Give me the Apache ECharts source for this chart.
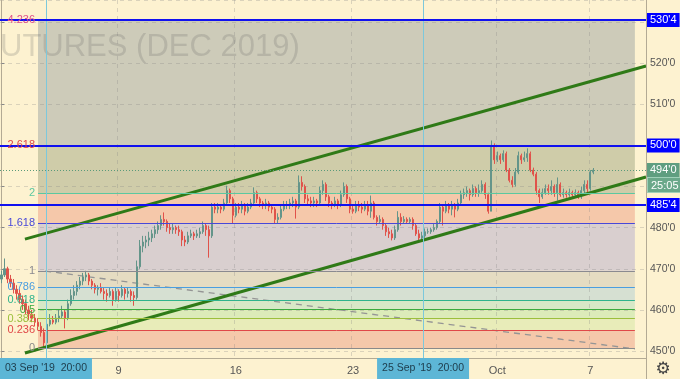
<!DOCTYPE html>
<html><head><meta charset="utf-8">
<script src="https://cdn.jsdelivr.net/npm/echarts@6.0.0/dist/echarts.min.js"></script>
<style>html,body{margin:0;padding:0;background:#fdf2d0}#c{width:680px;height:379px}</style>
</head><body><div id="c"></div>
<script>
// ---- data ----
const barCount = 215; // slots across the time axis (incl. empty future space)
const opens = [467.5,468.5,470,467.5,466.5,465,464,462.5,461.5,460,
459,458,457,456,454.5,452,456.5,457.5,457,458,
458.5,459.5,458,461.5,463.5,464.5,466,467,468,468.5,
467,466,465,465.5,464.5,464,463.5,464.5,462.5,464.5,
463.5,465,464,464.5,463.5,463,470.5,475.5,476.5,477,
477.5,478.5,479.5,480.5,482,481.5,480,479.5,480,479.5,
479,477,476.5,478,478.5,478,478.5,479,480.5,479.5,
478,485,484.5,485,484.5,486,489,487,483,485,
484.5,485.5,484,485,486,488.5,487,486,485.5,486,
485,484.5,482,482.5,484.5,485.5,485.5,486,486.5,485,
491,490,487,486.5,486,486.5,486,489,490.5,487.5,
486,485.5,486.5,485.5,488,490,487,484.5,484,485.5,
485,484.5,485.5,484,486,482.5,481.5,482,480.5,479,
478.5,477.5,479.5,482.5,481.5,482,481.5,482,480.5,478.5,
477.5,478,479,479,479.5,480,481.5,485,484,485.5,
484.5,485.5,484.5,486,488,488.5,489,488,489.5,488.5,
489,490.5,488,484,500,496.5,497.5,496.5,498,494,
491.5,490.5,493.5,497.5,496.5,497,498,494,493,489,
487.5,488.5,489.5,489,490,488.5,490.5,488,488.5,488,
488.5,488,488.5,487.5,489,490.5,489.5,493.5];
const closes = [468.5,470,467.5,466.5,465,464,462.5,461.5,460,459,
458,457,456,454.5,452,456.5,457.5,457,458,458.5,
459.5,458,461.5,463.5,464.5,466,467,468,468.5,467,
466,465,465.5,464.5,464,463.5,464.5,462.5,464.5,463.5,
465,464,464.5,463.5,463,470.5,475.5,476.5,477,477.5,
478.5,479.5,480.5,482,481.5,480,479.5,480,479.5,479,
477,476.5,478,478.5,478,478.5,479,480.5,479.5,478,
485,484.5,485,484.5,486,489,487,483,485,484.5,
485.5,484,485,486,488.5,487,486,485.5,486,485,
484.5,482,482.5,484.5,485.5,485.5,486,486.5,485,491,
490,487,486.5,486,486.5,486,489,490.5,487.5,486,
485.5,486.5,485.5,488,490,487,484.5,484,485.5,485,
484.5,485.5,484,486,482.5,481.5,482,480.5,479,478.5,
477.5,479.5,482.5,481.5,482,481.5,482,480.5,478.5,477.5,
478,479,479,479.5,480,481.5,485,484,485.5,484.5,
485.5,484.5,486,488,488.5,489,488,489.5,488.5,489,
490.5,488,484,500,496.5,497.5,496.5,498,494,491.5,
490.5,493.5,497.5,496.5,497,498,494,493,489,487.5,
488.5,489.5,489,490,488.5,490.5,488,488.5,488,488.5,
488,488.5,487.5,489,490.5,489.5,493.5,494];
const lows = [466.5,468,466.5,465.5,464,462.5,461.5,460,459,457.5,
457,456,455,453.5,451,451.5,456,456.5,456.5,457,
458,455.5,457.5,461,462.5,463.5,465,466,467,466,
465,464,463.5,464,462.5,462,463,461,462,462,
463,462.5,463,462,461,462.5,470,474,475,475.5,
476.5,477.5,478.5,479.5,480.5,479,478.5,478.5,478.5,478,
475.5,475.5,476,477.5,477,477.5,477.5,478.5,478,472.7,
477.5,483.5,483.5,483.5,484,485.5,486,481,482.5,483.5,
483.5,483,483.5,484.5,485.5,486,485,484.5,484.5,484,
483.5,481,481,482,484,484.5,484.5,485,482.2,484.5,
489,486,485.5,485,485,485,485.5,488,486.5,485,
484.5,485,484.5,485,487.5,486,483.5,483.4,483.5,484,
483.5,484,483,482.4,482,480.5,481,479.5,478,477.5,
476.9,477,479,480.5,481,481,481,479.5,478,477,
476.8,477.5,478.5,478.5,479,479.5,481,480.5,483.5,483.5,
483,482.5,484,485.5,487,487.5,486.6,487.5,487.5,487.5,
488.5,487,483.4,484,495.5,496,495.5,496,493.5,491,
489.8,490,493,495.5,496,496,493.5,492.5,488,486,
487,488,488,488,487.5,486.6,487.5,487.3,487.3,487.5,
487,487.3,487,487,488,488.5,489,493];
const highs = [469.5,472.5,470.5,468.5,467.5,466,465,463.5,462.5,461,
460,459,458,457,455.5,457.5,459,458.5,459,460,
461,460,462.5,465,466,467,468,469,469.5,469,
467.5,466.5,466,466.5,465.5,465,465.5,465,465.5,465,
466,465.5,465.5,465,464.5,472,477,478,478,479,
479.5,480.5,481.5,483,483.7,482,481,481,480.5,480.5,
479.5,478,479,479.5,479,479.5,480,481.5,481,480.5,
486,486,486,485.5,487,490.2,489.5,487.5,486,486,
486.5,486,486,487,489.8,489,487.5,486.5,487,486.5,
485.5,485,483.5,485.5,486.5,486.5,487,487.5,487,492.7,
492.5,490.5,488,487.5,487.5,487,490,491.5,491,488,
486.5,487.5,487,489,491,490.5,487.5,485.5,486.5,486.5,
486,486.5,486.5,487.8,486.5,483,483,482.5,481,480,
479.5,480.5,484,483.5,482.8,482.5,482.5,482.5,481,479.5,
479,479.8,479.8,480,481,482,486,485.5,486.5,486,
486.5,486,487,489,489.5,490,489.5,490.5,490,490.5,
491.5,491,488.5,501.2,500.5,498.5,498,498.8,498.5,494.5,
492.5,494.5,498.5,498,498.5,499.3,498.5,494.6,493.5,489.5,
489.5,490.5,490.5,491.5,490.5,492.2,491,489.5,489,489.5,
489,489.3,489,490,491.5,491.5,494,494.5];

const xTickIndex = [39, 78, 117, 165, 196];
const xTickLabels = ['9', '16', '23', 'Oct', '7'];

const fibLow = 450.65, fibHigh = 469.5;
const fibRatios = [0, 0.236, 0.382, 0.5, 0.618, 0.786, 1, 1.618, 2, 2.618, 4.236];
const fibLabels = ['0', '0.236', '0.382', '0.5', '0.618', '0.786', '1', '1.618', '2', '2.618', '4.236'];
const fibStart = 12.15, fibEnd = 210.8;

const upperTrend = [[7.8, 477.2], [214.5, 519.3]];
const lowerTrend = [[7.8, 449.5], [214.5, 492.3]];
const dashedTrend = [[14.5, 469.45], [210.8, 450.5]];
const blueLevels = [530.5, 500, 485.5];
const lastPrice = 494;
const countdown = '25:05';
const crosshairX = [14.8, 140.3];
const crosshairLabels = ["03 Sep '19  20:00", "25 Sep '19  20:00"];
const watermark = 'UTURES (DEC 2019)';

// ---- styles ----
const FONT = 'Liberation Sans, Arial, sans-serif';
const fibLineColors = ['#8a8a8a','#e04848','#9cbf3c','#3daa3d','#2fb38c','#4a9ee0','#8a8a90','#4848d8','#5cc8a0','#e04848','#e0508a'];
const fibFillColors = ['#f5c8aa','#e8ecb9','#dcebb9','#d7e8c6','#d6e0d2','#e5dcc2','#d9cfcf','#f5c8aa','#cfcca9','#cdcbb9'];

function fmt(v) {
  const f = Math.floor(v + 1e-9);
  return f + "'" + Math.round((v - f) * 8);
}

const categories = [];
for (let i = 0; i < barCount; i++) categories.push(String(i));
const ohlc = opens.map((o, i) => [o, closes[i], lows[i], highs[i]]);
const fibValues = fibRatios.map(r => fibLow + r * (fibHigh - fibLow));

const fibAreas = [];
for (let k = 0; k < fibValues.length - 1; k++) {
  fibAreas.push([
    { xAxis: fibStart, yAxis: fibValues[k], itemStyle: { color: fibFillColors[k] } },
    { xAxis: fibEnd, yAxis: fibValues[k + 1] }
  ]);
}
const fibLines = fibValues.map((v, k) => [
  { coord: [fibStart, v], lineStyle: { color: fibLineColors[k], width: 1, type: 'solid' },
    label: { show: true, position: 'start', distance: 3, formatter: fibLabels[k], color: fibLineColors[k], fontSize: 11, fontFamily: FONT } },
  { coord: [fibEnd, v] }
]);

const chart = echarts.init(document.getElementById('c'), null, { renderer: 'canvas' });
const tickSet = new Set(xTickIndex);

const option = {
  animation: false,
  backgroundColor: '#fdf2d0',
  grid: { left: 0, right: 34, top: 0, bottom: 21, containLabel: false },
  xAxis: [{
    type: 'category', data: categories, boundaryGap: true, z: 1.5,
    axisLine: { show: true, lineStyle: { color: '#b3aa94', width: 1 } },
    axisTick: { show: false },
    axisLabel: { interval: (idx) => tickSet.has(idx), color: '#555', fontSize: 11, fontFamily: FONT, margin: 7,
      formatter: (val, idx) => { const k = xTickIndex.indexOf(Number(val)); return k >= 0 ? xTickLabels[k] : ''; } },
    splitLine: { show: true, interval: (idx) => tickSet.has(idx), lineStyle: { color: 'rgba(130,130,130,0.28)', type: [4, 4] } }
  }, {
    type: 'value', min: -0.5, max: barCount - 0.5, show: false
  }],
  yAxis: [{
    type: 'value', position: 'right', min: 448.3, max: 535.36, splitNumber: 9, z: 1.5,
    axisLine: { show: true, lineStyle: { color: '#b3aa94', width: 1 } },
    axisTick: { show: true, length: 3, lineStyle: { color: '#888' } },
    axisLabel: { showMinLabel: false, showMaxLabel: false, formatter: fmt, color: '#555', fontSize: 10.5, fontFamily: FONT, margin: 4 },
    splitLine: { show: true, lineStyle: { color: 'rgba(130,130,130,0.28)', type: [4, 4] } }
  }],
  series: [
    { // fibonacci zones
      type: 'line', xAxisIndex: 1, yAxisIndex: 0, z: 1, data: [], symbol: 'none',
      markArea: { silent: true, data: fibAreas },
      markLine: { silent: true, symbol: ['none', 'none'], data: fibLines }
    },
    { // crosshair verticals
      type: 'line', xAxisIndex: 1, yAxisIndex: 0, z: 2, data: [], symbol: 'none',
      markLine: { silent: true, symbol: ['none', 'none'],
        data: crosshairX.map((x, k) => ({ xAxis: x,
          lineStyle: { color: '#7cc8dc', width: 1, type: 'solid' },
          label: { show: true, position: 'start', distance: 0, formatter: crosshairLabels[k], color: '#1d3b4a',
            backgroundColor: '#5db6d6', padding: [5, 5, 5, 5], fontSize: 10.5, fontFamily: FONT } })) }
    },
    {
      type: 'line', xAxisIndex: 1, yAxisIndex: 0, z: 2.5, data: dashedTrend, symbol: 'none',
      lineStyle: { color: '#959595', width: 1.3, type: [6, 5] }
    },
    {
      type: 'candlestick', xAxisIndex: 0, yAxisIndex: 0, z: 3, data: ohlc, barWidth: 1.6,
      itemStyle: { color: '#64958a', color0: '#e0524a', borderColor: '#64958a', borderColor0: '#e0524a', borderWidth: 1 }
    },
    {
      type: 'line', xAxisIndex: 1, yAxisIndex: 0, z: 4, data: upperTrend, symbol: 'none',
      lineStyle: { color: '#2f7a17', width: 3 }
    },
    {
      type: 'line', xAxisIndex: 1, yAxisIndex: 0, z: 4, data: lowerTrend, symbol: 'none',
      lineStyle: { color: '#2f7a17', width: 3 }
    },
    { // horizontal levels with price tags
      type: 'line', xAxisIndex: 1, yAxisIndex: 0, z: 5, data: [], symbol: 'none',
      markLine: { silent: true, symbol: ['none', 'none'],
        data: blueLevels.map(v => ({ yAxis: v,
          lineStyle: { color: '#1010f0', width: 2, type: 'solid' },
          label: { show: true, position: 'end', distance: 1, formatter: fmt(v), color: '#fff', backgroundColor: '#0000ff',
            padding: [2, 3, 1, 3], fontSize: 11, fontFamily: FONT } })).concat([{ yAxis: lastPrice,
          lineStyle: { color: '#5a9a7a', width: 1, type: [1, 2] },
          label: { show: true, position: 'end', distance: 1, formatter: fmt(lastPrice), color: '#fff', backgroundColor: '#5f9e80',
            padding: [2, 3, 1, 3], fontSize: 11, fontFamily: FONT } }]) }
    }
  ],
  graphic: []
};
chart.setOption(option);

const yLast = chart.convertToPixel({ yAxisIndex: 0 }, lastPrice);
chart.setOption({ graphic: [
  { type: 'text', left: 0, top: 32, z: 2, silent: true,
    style: { text: watermark, fontSize: 31, fontFamily: FONT, fill: 'rgba(100,100,100,0.22)' } },
  { type: 'text', x: 648, y: yLast + 8, z: 10, silent: true,
    style: { text: countdown, fontSize: 11, fontFamily: FONT, fill: '#fff', backgroundColor: '#6aa88a',
      borderColor: '#9fd0b8', borderWidth: 1, padding: [2, 3, 1, 3] } },
  { type: 'line', z: 10, silent: true, shape: { x1: 646.5, y1: 0, x2: 646.5, y2: 379 }, style: { stroke: '#b3aa94', lineWidth: 1 } },
  { type: 'text', x: 663, y: 370, z: 10, silent: true,
    style: { text: '\u2699', fontSize: 17, fontFamily: 'DejaVu Sans', fill: '#444', align: 'center', verticalAlign: 'middle' } }
]});
</script>
</body></html>
